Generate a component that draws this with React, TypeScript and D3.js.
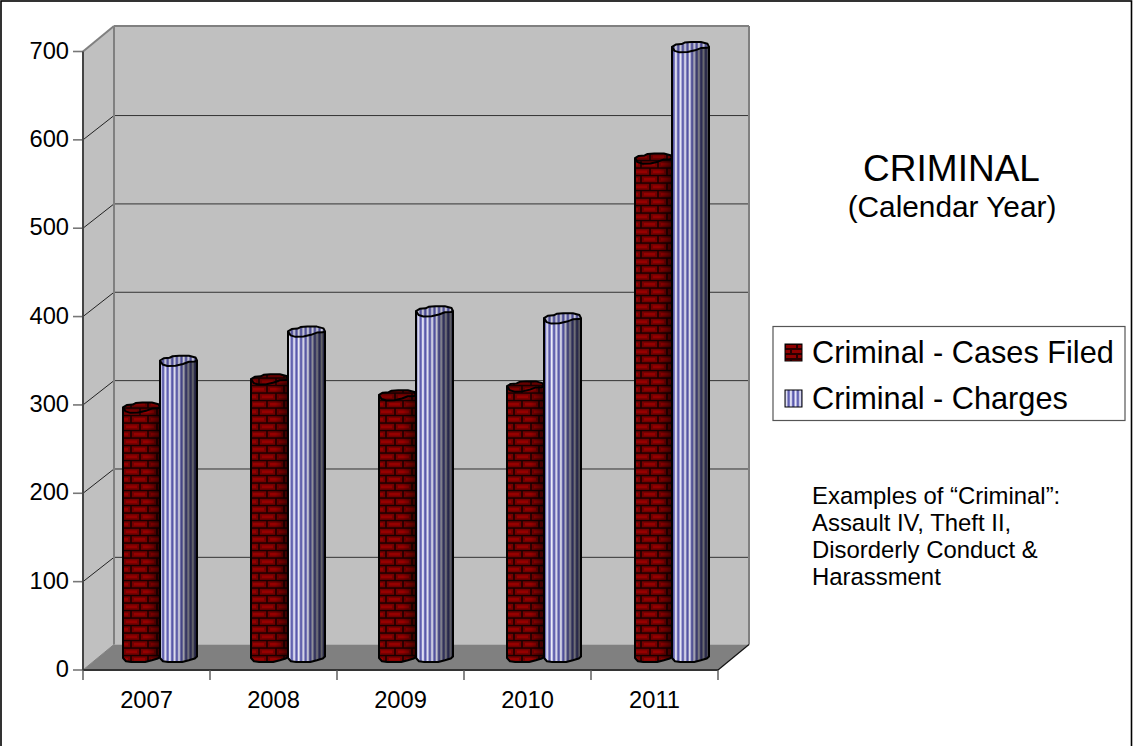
import React from "react";
import * as d3 from "d3";

const years = ["2007", "2008", "2009", "2010", "2011"];
const casesFiled = [282, 314, 296, 306, 564];
const charges = [335, 368, 391, 383, 690];
const valueTicks = [0, 100, 200, 300, 400, 500, 600, 700];
const seriesNames = ["Criminal - Cases Filed", "Criminal - Charges"];
const noteLines = ["Examples of “Criminal”:", "Assault IV, Theft II,", "Disorderly Conduct &", "Harassment"];

const FONT = "'Liberation Sans', Arial, sans-serif";
const DEPTH_X = 31;
const DEPTH_Y = 25.5;
const COL_DY = 13;
const COL_W = 37;
const RY = 5;

const xBand = d3.scaleBand<string>().domain(years).range([83, 718]);
// Columns stand mid-way along the floor, so they get their own band.
const xColumns = d3.scaleBand<string>().domain(years).range([96, 736]);
const yFront = d3.scaleLinear().domain([0, 700]).range([670, 51.5]);

// Slightly faceted cap outline, as a low-poly 3D cylinder renders it.
function capPoints(x: number, cy: number, w: number): [number, number][] {
  const fx = [0, 0.1, 0.26, 0.34, 0.52, 0.78, 0.96, 1, 0.94, 0.78, 0.62, 0.42, 0.2, 0.07];
  const fy = [-0.1, -0.55, -0.65, -0.95, -1.05, -1.05, -0.7, -0.1, 0.1, 0.15, 0.6, 0.95, 1, 0.7];
  return fx.map((f, i) => [x + f * w, cy + fy[i] * RY]);
}
const closedLine = d3.line().curve(d3.curveLinearClosed);

function Column({ x, value, fill, shade }: { x: number; value: number; fill: string; shade: string }) {
  const topY = yFront(value) - COL_DY;
  const baseY = yFront(0) - COL_DY;
  const w = COL_W;
  const bottom: [number, number][] = [
    [x, baseY + RY * 0.2],
    [x + w * 0.08, baseY + RY * 0.85],
    [x + w * 0.22, baseY + RY],
    [x + w * 0.6, baseY + RY],
    [x + w * 0.78, baseY + RY * 0.65],
    [x + w * 0.94, baseY + RY * 0.3],
    [x + w, baseY - RY * 0.1],
  ];
  const body = d3.line()([[x, topY], ...bottom, [x + w, topY]]) + "Z";
  const cap = closedLine(capPoints(x, topY, w)) as string;
  return (
    <g>
      <path d={body} fill={fill} />
      <path d={body} fill={`url(#${shade})`} />
      <path d={body} fill="none" stroke="#000" strokeWidth={2} strokeLinejoin="round" />
      <path d={cap} fill={fill} />
      <path d={cap} fill="#000" fillOpacity={0.14} stroke="#000" strokeWidth={2} strokeLinejoin="round" />
    </g>
  );
}

export default function App() {
  const bw = xBand.bandwidth();
  const colBw = xColumns.bandwidth();
  const backL = 83 + DEPTH_X;
  const backR = 718 + DEPTH_X;
  const floorY = yFront(0);
  const topBack = yFront(700) - DEPTH_Y;
  return (
    <svg
      width={1133}
      height={746}
      viewBox="0 0 1133 746"
      style={{ position: "absolute", left: 0, top: 0, display: "block", fontFamily: FONT }}
    >
      <defs>
        <pattern id="brick" width={17} height={15} patternUnits="userSpaceOnUse" patternTransform="translate(123 3)">
          <rect width={17} height={15} fill="#1a0000" />
          <rect x={0.8} y={0.8} width={15.4} height={6} fill="#740000" />
          <rect x={3} y={2.5} width={11} height={2.6} fill="#960000" />
          <rect x={-8} y={8.3} width={15.2} height={6} fill="#740000" />
          <rect x={8.8} y={8.3} width={15.4} height={6} fill="#740000" />
          <rect x={-6} y={10} width={11} height={2.6} fill="#960000" />
          <rect x={11} y={10} width={11} height={2.6} fill="#960000" />
        </pattern>
        <pattern id="stripes" width={4.6} height={10} patternUnits="userSpaceOnUse" patternTransform="translate(160 0)">
          <rect width={4.6} height={10} fill="#bcbce6" />
          <rect x={0} width={1.2} height={10} fill="#f0f0fa" />
          <rect x={2.1} width={2} height={10} fill="#5555aa" />
        </pattern>
        <pattern id="brickSwatch" width={12} height={10} patternUnits="userSpaceOnUse" patternTransform="translate(785 344)">
          <rect width={12} height={10} fill="#2a0000" />
          <rect x={1} y={1} width={10} height={3} fill="#8e0000" />
          <rect x={-5} y={6} width={10} height={3} fill="#8e0000" />
          <rect x={7} y={6} width={10} height={3} fill="#8e0000" />
        </pattern>
        <linearGradient id="shadeRed" x1="0" x2="1" y1="0" y2="0">
          <stop offset="0.65" stopColor="#000" stopOpacity={0} />
          <stop offset="1" stopColor="#000" stopOpacity={0.55} />
        </linearGradient>
        <linearGradient id="shadeBlue" x1="0" x2="1" y1="0" y2="0">
          <stop offset="0" stopColor="#000" stopOpacity={0.05} />
          <stop offset="0.2" stopColor="#000" stopOpacity={0} />
          <stop offset="0.5" stopColor="#000" stopOpacity={0.08} />
          <stop offset="0.7" stopColor="#000" stopOpacity={0.45} />
          <stop offset="1" stopColor="#000" stopOpacity={0.65} />
        </linearGradient>
      </defs>

      <rect x={1} y={1} width={1130.5} height={760} fill="#fff" stroke="#000" strokeWidth={1.6} />

      {/* Walls and floor of the 3D plot box */}
      <rect x={backL} y={topBack} width={backR - backL} height={floorY - DEPTH_Y - topBack} fill="#c0c0c0" />
      <polygon
        points={`83,${yFront(700)} ${backL},${topBack} ${backL},${floorY - DEPTH_Y} 83,${floorY}`}
        fill="#c0c0c0"
      />
      <polygon
        points={`83,${floorY} ${backL},${floorY - DEPTH_Y} ${backR},${floorY - DEPTH_Y} 718,${floorY}`}
        fill="#808080"
      />

      {/* Gridlines run along the side wall and across the back wall */}
      {valueTicks.map((t) => {
        const y = yFront(t);
        const isEdge = t === 700 || t === 0;
        const backY = y - (isEdge ? DEPTH_Y : DEPTH_Y - 1.2);
        return (
          <g key={t}>
            <path
              d={`M83,${y}L${backL},${backY}`}
              fill="none"
              stroke={isEdge ? "#808080" : "#222"}
              strokeWidth={t === 700 ? 2 : 1}
            />
            {t !== 0 && (
              <line
                x1={backL}
                x2={backR}
                y1={backY}
                y2={backY}
                stroke={isEdge ? "#808080" : "#333"}
                strokeWidth={isEdge ? 2 : 1}
              />
            )}
            <line x1={73} x2={83} y1={y} y2={y} stroke="#777" strokeWidth={1.6} />
            <text x={69} y={y - 0.8} textAnchor="end" dominantBaseline="central" fontSize={23.7} fill="#000">
              {t}
            </text>
          </g>
        );
      })}
      <line x1={backL} x2={backL} y1={topBack} y2={floorY - DEPTH_Y} stroke="#808080" strokeWidth={2} />
      <line x1={backR} x2={backR} y1={topBack} y2={floorY - DEPTH_Y} stroke="#808080" strokeWidth={2} />

      {/* Columns */}
      {years.map((yr, i) => {
        const cx = (xColumns(yr) as number) + colBw / 2;
        return (
          <g key={yr}>
            <Column x={cx - COL_W} value={casesFiled[i]} fill="url(#brick)" shade="shadeRed" />
            <Column x={cx} value={charges[i]} fill="url(#stripes)" shade="shadeBlue" />
          </g>
        );
      })}

      {/* Front axes */}
      <line x1={83} x2={83} y1={yFront(700)} y2={floorY} stroke="#444" strokeWidth={2} />
      <line x1={83} x2={718} y1={floorY} y2={floorY} stroke="#333" strokeWidth={2} />
      <line x1={718} x2={backR} y1={floorY} y2={floorY - DEPTH_Y} stroke="#111" strokeWidth={1.2} />
      {[...years.map((y) => xBand(y) as number), 718].map((x) => (
        <line key={x} x1={x} x2={x} y1={floorY} y2={680} stroke="#555" strokeWidth={1.4} />
      ))}
      {years.map((yr) => (
        <text key={yr} x={(xBand(yr) as number) + bw / 2} y={707.5} textAnchor="middle" fontSize={23.7} fill="#000">
          {yr}
        </text>
      ))}

      {/* Titles */}
      <text x={951.5} y={180.5} textAnchor="middle" fontSize={37} fill="#000">CRIMINAL</text>
      <text x={952} y={217} textAnchor="middle" fontSize={29.8} fill="#000">(Calendar Year)</text>

      {/* Legend */}
      <rect x={773} y={326.5} width={352} height={94} fill="#fff" stroke="#555" strokeWidth={1.2} />
      <rect x={785} y={344} width={17} height={17} fill="url(#brickSwatch)" stroke="#000" strokeWidth={1} />
      <rect x={785} y={390} width={17} height={17} fill="url(#stripes)" stroke="#000" strokeWidth={1} />
      <text x={812} y={363} fontSize={30.7} fill="#000">{seriesNames[0]}</text>
      <text x={812} y={408.5} fontSize={30.7} fill="#000">{seriesNames[1]}</text>

      {/* Side note */}
      {noteLines.map((line, i) => (
        <text key={line} x={812} y={503.5 + i * 27} fontSize={23.9} fill="#000">
          {line}
        </text>
      ))}
    </svg>
  );
}
